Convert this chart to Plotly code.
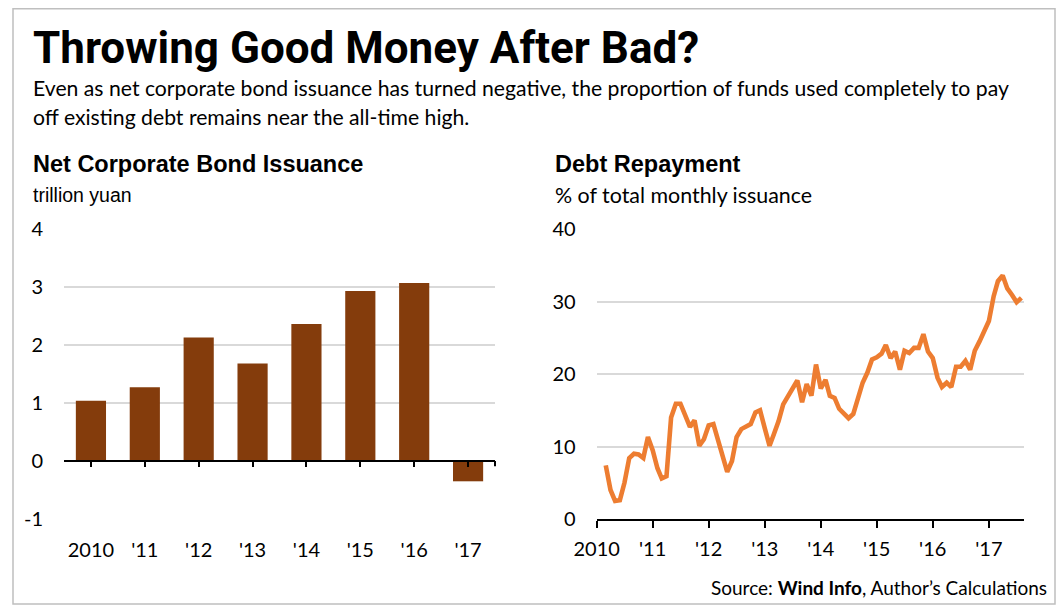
import plotly.graph_objects as go
import pandas as pd

# ---------------- data ----------------
bar_years = ["2010", "'11", "'12", "'13", "'14", "'15", "'16", "'17"]
net_issuance = [1.04, 1.27, 2.13, 1.68, 2.36, 2.93, 3.07, -0.35]
bar_axis_ticks = [-1, 0, 1, 2, 3, 4]
bar_axis_labels = ["-1", "0", "1", "2", "3", "4"]

repay_start = "2010-03-01"
debt_repayment = [
    7.4, 4.0, 2.5, 2.6, 5.0, 8.4, 9.0, 8.9, 8.4, 11.3,            # 2010 Mar-Dec
    9.5, 7.0, 5.6, 5.9, 14.0, 15.9, 15.9, 14.2, 12.7, 13.6, 10.1, 11.0,  # 2011
    12.9, 13.1, 11.0, 8.5, 6.5, 8.0, 11.3, 12.4, 12.8, 13.1, 14.7, 15.0,  # 2012
    12.5, 10.1, 11.7, 13.5, 15.8, 17.0, 17.9, 19.1, 16.1, 18.6, 17.0, 21.3,  # 2013
    18.0, 19.2, 17.0, 16.7, 15.2, 14.5, 13.9, 14.5, 16.5, 18.8, 20.2, 22.0,  # 2014
    22.3, 22.8, 24.0, 22.2, 23.1, 20.6, 23.2, 22.9, 23.6, 23.6, 25.5, 23.1,  # 2015
    22.2, 19.5, 18.2, 18.8, 18.2, 21.0, 21.0, 21.8, 20.6, 23.2, 24.5, 25.9,  # 2016
    27.3, 30.7, 32.8, 33.6, 31.8, 30.9, 29.9, 30.5,                    # 2017 Jan-Aug
]
repay_dates = pd.date_range(repay_start, periods=len(debt_repayment), freq="MS")

line_tick_dates = ["2010-01-01", "2011-01-01", "2012-01-01", "2013-01-01",
                   "2014-01-01", "2015-01-01", "2016-01-01", "2017-01-01"]
line_tick_text = ["2010", "'11", "'12", "'13", "'14", "'15", "'16", "'17"]

# ---------------- styling ----------------
PAGE_OFF = 8                      # default body margin of the html page
W, H = 1064 - 2 * PAGE_OFF, 613 - 2 * PAGE_OFF
BAR_COLOR = "#843C0C"
LINE_COLOR = "#ED7D31"
GRID = "#d9d9d9"
TICK_FONT = dict(family="Lato, Open Sans, sans-serif", size=20, color="#000000")


def px_x(v):
    return (v - PAGE_OFF) / W


def px_y(v):
    return 1 - (v - PAGE_OFF) / H


y_dom = [px_y(519), px_y(229)]
left_dom = [px_x(64), px_x(495)]
right_dom = [px_x(596.7), px_x(1024)]
zero_pos = y_dom[0] + (y_dom[1] - y_dom[0]) * (0 - (-1)) / (4 - (-1))

fig = go.Figure()
fig.add_trace(go.Bar(x=bar_years, y=net_issuance, marker_color=BAR_COLOR,
                     marker_line_width=0, xaxis="x", yaxis="y"))
fig.add_trace(go.Scatter(x=repay_dates, y=debt_repayment, mode="lines",
                         line=dict(color=LINE_COLOR, width=4.6),
                         xaxis="x2", yaxis="y2"))

fig.update_layout(
    width=W, height=H, autosize=False,
    margin=dict(l=0, r=0, t=0, b=0, pad=0, autoexpand=False),
    paper_bgcolor="white", plot_bgcolor="white",
    showlegend=False, bargap=0.44,
    xaxis=dict(domain=left_dom, anchor="free", position=zero_pos, type="category",
               showline=True, linecolor="black", linewidth=2, automargin=False,
               ticks="outside", ticklen=5, tickwidth=2, tickcolor="black",
               showgrid=False, tickfont=TICK_FONT, ticklabelstandoff=66),
    yaxis=dict(domain=y_dom, anchor="x", range=[-1, 4], automargin=False,
               tickvals=bar_axis_ticks, ticktext=bar_axis_labels,
               showgrid=True, gridcolor=GRID, gridwidth=2, zeroline=False,
               showline=False, ticks="", tickfont=TICK_FONT, ticklabelstandoff=20),
    xaxis2=dict(domain=right_dom, anchor="y2", type="date", automargin=False,
                range=["2010-01-01", "2017-08-18"],
                tickvals=line_tick_dates, ticktext=line_tick_text,
                showline=True, linecolor="black", linewidth=2,
                ticks="outside", ticklen=7, tickwidth=2, tickcolor="black",
                showgrid=False, tickfont=TICK_FONT, ticklabelstandoff=4),
    yaxis2=dict(domain=y_dom, anchor="x2", range=[0, 40], dtick=10, automargin=False,
                showgrid=True, gridcolor=GRID, gridwidth=2, zeroline=False,
                showline=False, ticks="", tickfont=TICK_FONT, ticklabelstandoff=20),
)

# end tick on the left category axis
fig.add_shape(type="line", xref="x domain", yref="y", x0=1, x1=1, y0=0, y1=-0.09,
              line=dict(color="black", width=2))

# frame
fig.add_shape(type="rect", xref="paper", yref="paper",
              x0=px_x(13), x1=min(px_x(1061), (W - 1) / W),
              y0=max(px_y(607), 1 / H), y1=px_y(8.8),
              line=dict(color="#bfbfbf", width=1.5), layer="below")

TITLE_FONT = dict(family="Roboto, Liberation Sans, sans-serif", size=44, color="black")
SUB_FONT = dict(family="Lato, Open Sans, sans-serif", size=21.2, color="black")
HEAD_FONT = dict(family="Liberation Sans, Arial, sans-serif", size=23.5, color="black")
UNIT_FONT = dict(family="Liberation Sans, Arial, sans-serif", size=19.5, color="black")
UNIT2_FONT = dict(family="Lato, Open Sans, sans-serif", size=21.4, color="black")


def note(text, x, y, font, xanchor="left"):
    fig.add_annotation(text=text, x=px_x(x), y=px_y(y), xref="paper", yref="paper",
                       xanchor=xanchor, yanchor="middle", showarrow=False, font=font)


note("<b>Throwing Good Money After Bad?</b>", 31, 48, TITLE_FONT)
note("Even as net corporate bond issuance has turned negative, the proportion of funds used completely to pay",
     31, 88, SUB_FONT)
note("off existing debt remains near the all-time high.", 31, 117, SUB_FONT)
note("<b>Net Corporate Bond Issuance</b>", 31, 164, HEAD_FONT)
note("trillion yuan", 31, 195, UNIT_FONT)
note("<b>Debt Repayment</b>", 553, 164, HEAD_FONT)
note("% of total monthly issuance", 553, 195, UNIT2_FONT)
note("Source: <b>Wind Info</b>, Author\u2019s Calculations", 1049, 587,
     dict(family="Lato, Open Sans, sans-serif", size=19, color="black"), xanchor="right")

fig.write_html("out.html", config={"displayModeBar": False})
